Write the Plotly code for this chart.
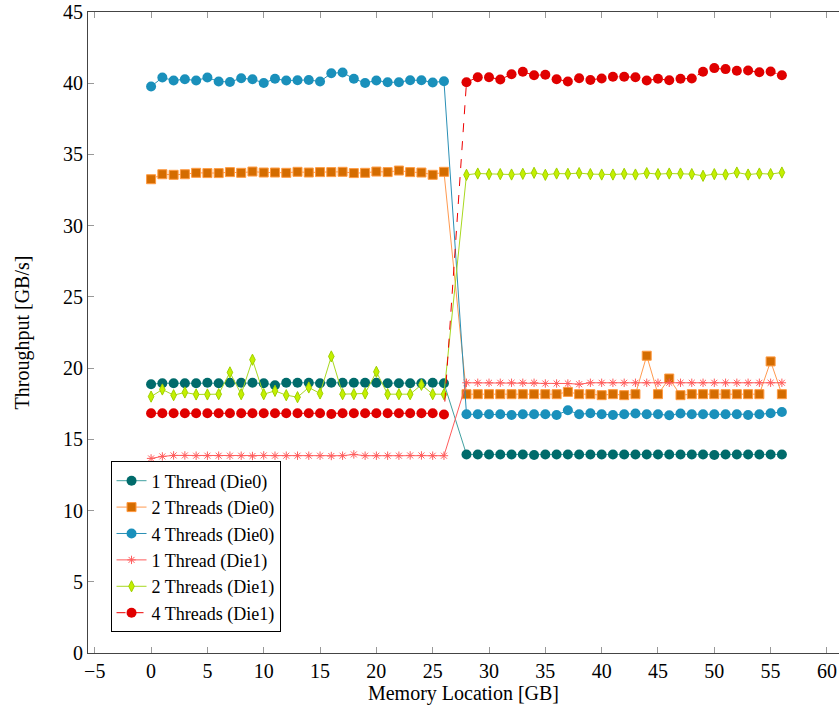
import plotly.graph_objects as go

# Memory locations (GB): 0..26 on Die0, 28..56 on Die1
x_mem = list(range(0, 27)) + list(range(28, 57))

t1_die0 = [18.87, 18.94, 18.94, 18.94, 18.94, 18.97, 18.94, 18.97, 18.97, 18.97, 18.94, 18.80, 18.97, 18.97,
           18.97, 18.94, 18.97, 18.97, 18.97, 18.97, 18.97, 18.94, 18.94, 18.94, 18.94, 18.97, 18.94,
           13.94, 13.94, 13.94, 13.94, 13.94, 13.94, 13.90, 13.94, 13.94, 13.94, 13.94, 13.94, 13.94, 13.94,
           13.94, 13.94, 13.94, 13.94, 13.94, 13.94, 13.94, 13.94, 13.90, 13.94, 13.94, 13.94, 13.94, 13.94, 13.94]

t2_die0 = [33.26, 33.61, 33.57, 33.61, 33.71, 33.69, 33.69, 33.76, 33.71, 33.80, 33.73, 33.73, 33.71, 33.78,
           33.73, 33.76, 33.76, 33.78, 33.69, 33.71, 33.80, 33.76, 33.87, 33.76, 33.73, 33.57, 33.78,
           18.17, 18.17, 18.17, 18.17, 18.17, 18.17, 18.17, 18.17, 18.17, 18.33, 18.17, 18.17, 18.10, 18.17,
           18.10, 18.17, 20.87, 18.17, 19.27, 18.10, 18.17, 18.17, 18.17, 18.17, 18.17, 18.17, 18.17, 20.47, 18.17]

t4_die0 = [39.77, 40.40, 40.19, 40.28, 40.19, 40.40, 40.12, 40.09, 40.35, 40.28, 40.02, 40.31, 40.19, 40.21,
           40.23, 40.12, 40.70, 40.75, 40.31, 40.02, 40.19, 40.07, 40.07, 40.21, 40.21, 40.05, 40.14,
           16.76, 16.76, 16.76, 16.76, 16.71, 16.76, 16.76, 16.76, 16.71, 17.04, 16.76, 16.83, 16.76, 16.71,
           16.76, 16.81, 16.76, 16.76, 16.69, 16.81, 16.76, 16.76, 16.76, 16.76, 16.76, 16.71, 16.76, 16.83, 16.92]

t1_die1 = [13.66, 13.80, 13.87, 13.87, 13.85, 13.85, 13.85, 13.85, 13.85, 13.83, 13.87, 13.85, 13.85, 13.85,
           13.85, 13.85, 13.83, 13.85, 13.94, 13.85, 13.85, 13.85, 13.85, 13.87, 13.87, 13.85, 13.85,
           18.97, 18.97, 18.97, 18.97, 18.97, 18.97, 18.97, 18.92, 18.92, 18.92, 18.87, 18.97, 18.97, 18.97,
           18.97, 18.97, 18.97, 18.97, 18.97, 18.97, 18.97, 18.97, 18.97, 18.97, 18.97, 18.97, 18.97, 18.97, 18.97]

t2_die1 = [18.00, 18.50, 18.10, 18.29, 18.15, 18.15, 18.17, 19.70, 18.17, 20.59, 18.17, 18.40, 18.10, 17.96,
           18.64, 18.22, 20.82, 18.17, 18.17, 18.22, 19.74, 18.17, 18.17, 18.17, 18.83, 18.17, 18.17,
           33.57, 33.66, 33.62, 33.62, 33.59, 33.64, 33.71, 33.57, 33.66, 33.64, 33.69, 33.62, 33.59, 33.59,
           33.64, 33.59, 33.69, 33.62, 33.66, 33.66, 33.62, 33.50, 33.62, 33.59, 33.73, 33.59, 33.66, 33.62, 33.73]

t4_die1 = [16.83, 16.83, 16.83, 16.83, 16.83, 16.83, 16.83, 16.83, 16.83, 16.83, 16.83, 16.83, 16.83, 16.83,
           16.83, 16.83, 16.78, 16.83, 16.83, 16.83, 16.83, 16.83, 16.83, 16.83, 16.83, 16.83, 16.74,
           40.07, 40.42, 40.42, 40.26, 40.63, 40.80, 40.56, 40.59, 40.28, 40.12, 40.35, 40.23, 40.33, 40.45,
           40.45, 40.42, 40.19, 40.31, 40.21, 40.31, 40.33, 40.80, 41.06, 40.99, 40.87, 40.89, 40.77, 40.82, 40.56]

names = ["1 Thread (Die0)", "2 Threads (Die0)", "4 Threads (Die0)",
         "1 Thread (Die1)", "2 Threads (Die1)", "4 Threads (Die1)"]

x_ticks = list(range(-5, 61, 5))
y_ticks = list(range(0, 46, 5))

FONT = "Liberation Serif"

styles = [
    dict(line=dict(color="rgba(0,128,128,0.75)", width=1),
         marker=dict(symbol="circle", size=10, color="#006b6b", line=dict(width=0))),
    dict(line=dict(color="#ff9a50", width=1),
         marker=dict(symbol="square", size=9, color="#d46c00", line=dict(color="#ff9a40", width=1))),
    dict(line=dict(color="#2a8fb5", width=1),
         marker=dict(symbol="circle", size=10, color="#1a90bb", line=dict(width=0))),
    dict(line=dict(color="#ff5c5c", width=1),
         marker=dict(symbol="asterisk-open", size=7, color="#ff5c5c", line=dict(color="#ff5c5c", width=1))),
    dict(line=dict(color="#a8d820", width=1),
         marker=dict(symbol="diamond-tall", size=8, color="#c4f000", line=dict(color="#a0d000", width=1))),
    dict(line=dict(color="#ee0000", width=1, dash="dash"),
         marker=dict(symbol="circle", size=10, color="#e00000", line=dict(width=0))),
]

series = [t1_die0, t2_die0, t4_die0, t1_die1, t2_die1, t4_die1]

fig = go.Figure()
for name, ys, st in zip(names, series, styles):
    fig.add_trace(go.Scatter(x=x_mem, y=ys, name=name, mode="lines+markers",
                             line=st["line"], marker=st["marker"]))

fig.update_layout(
    width=839, height=709,
    margin=dict(l=88, r=0, t=12, b=56),
    paper_bgcolor="white", plot_bgcolor="white",
    font=dict(family=FONT, size=20, color="black"),
    showlegend=True,
    legend=dict(x=0.03, y=0.032, xanchor="left", yanchor="bottom",
                bordercolor="black", borderwidth=1, bgcolor="white",
                font=dict(family=FONT, size=18), tracegroupgap=0),
)
fig.update_xaxes(range=[-5.6, 61.07], tickvals=x_ticks, ticktext=[str(v).replace("-", "\u2212") for v in x_ticks],
                 showgrid=False, zeroline=False, showline=True, linecolor="#444", linewidth=1,
                 mirror="ticks", ticks="inside", ticklen=6, tickcolor="#999", tickwidth=1,
                 title=dict(text="Memory Location [GB]", font=dict(family=FONT, size=20), standoff=4))
fig.update_yaxes(range=[0, 45], tickvals=y_ticks,
                 showgrid=False, zeroline=False, showline=True, linecolor="#444", linewidth=1,
                 mirror=False, ticks="inside", ticklen=6, tickcolor="#999", tickwidth=1,
                 title=dict(text="Throughput [GB/s]", font=dict(family=FONT, size=20), standoff=28))

fig.write_html("out.html")
